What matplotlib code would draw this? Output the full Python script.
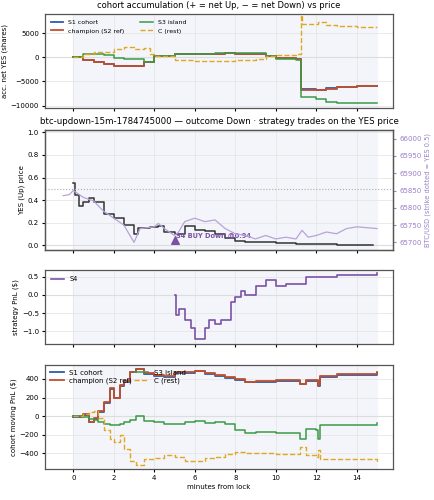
import matplotlib
matplotlib.use("Agg")
import matplotlib.pyplot as plt

# panel 1: accumulation
acc_t = [0,0.5,1,1.5,2,2.5,3,3.5,4,5,6,7,7.5,8,9,9.5,10,11,11.2,11.25,12,12.5,13,14,15]
champ_acc = [0,-500,-900,-1300,-1700,-1800,-1700,-1000,200,600,700,800,900,800,700,300,-200,-400,-400,-6700,-6800,-6500,-6200,-6000,-6000]
s1_acc = [0,-500,-900,-1300,-1700,-1800,-1700,-1000,200,600,700,800,900,800,700,300,-200,-400,-400,-6600,-6700,-6400,-6100,-5950,-5950]
s3_acc = [0,700,800,500,-200,-400,-400,-1000,200,700,800,1000,900,900,1000,200,-300,-500,-500,-8300,-8600,-9200,-9500,-9500,-9500]
c_t = [0,0.5,1,2,2.5,3,3.5,3.8,4,5,6,7,8,9,9.5,10,11,11.2,11.25,11.3,12,12.1,12.5,13,14,15]
c_acc = [0,800,1200,1800,2100,1800,1900,800,200,-600,-700,-700,-600,-400,300,500,600,700,8700,7000,7000,7400,6800,6500,6200,6200]

# panel 2: prices
yes_t = [0,0.1,0.3,0.5,0.8,1,1.5,2,2.5,3,3.2,3.8,4.2,4.5,5,5.5,6,6.5,7,7.5,8,8.5,9,10,11,12,13,14,14.8]
yes_p = [0.55,0.45,0.35,0.38,0.42,0.38,0.28,0.24,0.18,0.10,0.15,0.16,0.17,0.12,0.10,0.17,0.14,0.13,0.10,0.07,0.04,0.03,0.03,0.02,0.01,0.01,0.005,0.003,0.002]
btc_t = [-0.5,-0.2,0,0.5,1,1.5,2,2.5,3,3.3,4,4.2,4.5,5,5.2,5.5,6,6.5,7,7.5,8,8.5,9,9.5,10,10.5,11,11.3,11.6,12,12.5,13,13.5,14,15]
btc_p = [65835,65838,65850,65830,65820,65790,65770,65750,65700,65740,65745,65755,65740,65720,65730,65760,65770,65760,65765,65740,65725,65720,65710,65720,65710,65715,65710,65735,65715,65720,65730,65725,65740,65745,65740]
trade_t = [5.0]
trade_p = [0.05]
trade_label = "S4 BUY Down @0.94"

# panel 3: S4 pnl
s4_t = [5,5.05,5.2,5.5,5.8,6,6.3,6.5,6.7,7,7.3,7.8,8,8.3,8.5,9,9.5,10,10.5,11,11.5,12,12.5,13,14,15]
s4_p = [0,-0.55,-0.4,-0.7,-0.9,-1.2,-1.2,-0.9,-0.7,-0.8,-0.7,-0.2,-0.05,0.1,0.0,0.25,0.4,0.25,0.3,0.3,0.5,0.5,0.5,0.55,0.55,0.6]

# panel 4: moving pnl
pnl_t = [0,0.5,0.8,1,1.2,1.5,1.8,2,2.3,2.5,2.8,3.1,3.5,4,4.5,5,5.5,6,6.5,7,7.5,8,8.5,9,10,11,11.2,11.5,12,12.1,12.2,13,15]
champ_pnl = [0,20,-60,-20,50,150,300,200,330,380,480,510,460,440,430,470,470,490,460,440,420,400,370,380,390,390,350,390,390,330,430,450,470]
s1_pnl = [v-8 for v in champ_pnl]
s3_pnl = [0,-10,-30,-40,-60,-90,-95,-100,-80,-60,-40,0,-50,-60,-80,-80,-60,-50,-70,-60,-90,-150,-180,-170,-180,-180,-250,-140,-150,-250,-100,-100,-70]
c_pnl = [0,20,40,60,-20,-150,-250,-280,-200,-350,-480,-530,-460,-450,-420,-440,-480,-480,-450,-440,-410,-390,-395,-400,-410,-410,-330,-420,-440,-360,-460,-460,-490]

BLUE, RED, GREEN, ORANGE, PURPLE = "#2a5caa", "#c0502f", "#3a9a46", "#e0a820", "#7b52a6"
plt.rcParams.update({"font.size": 5, "axes.edgecolor": "#555555", "axes.linewidth": 0.9,
                     "xtick.major.size": 2.5, "ytick.major.size": 2.5, "axes.labelpad": 2,
                     "xtick.major.pad": 2, "ytick.major.pad": 2})
fig = plt.figure(figsize=(4.34, 5.0), dpi=100)
L, W = 0.104, 0.802
axs = [fig.add_axes([L, b, W, h]) for b, h in [(0.784, 0.188), (0.50, 0.24), (0.312, 0.148), (0.062, 0.208)]]
for ax in axs:
    ax.set_xlim(-1.39, 15.8)
    ax.axvspan(0, 15, color="#f3f5fa", zorder=0)
    ax.grid(True, color="#e6e6e6", lw=0.6)
    ax.set_axisbelow(True)
    ax.set_xticks(range(0, 16, 2))
    ax.axhline(0, color="#dddddd", lw=0.8, zorder=1)
for ax in axs[:3]:
    ax.set_xticklabels([])

ax = axs[0]
ax.plot(acc_t, s1_acc, drawstyle="steps-post", color=BLUE, lw=1.3, label="S1 cohort")
ax.plot(acc_t, champ_acc, drawstyle="steps-post", color=RED, lw=1.3, label="champion (S2 ref)")
ax.plot(acc_t, s3_acc, drawstyle="steps-post", color=GREEN, lw=1.1, label="S3 island")
ax.plot(c_t, c_acc, drawstyle="steps-post", color=ORANGE, lw=1.0, ls="--", label="C (rest)")
ax.set_ylim(-10500, 9000)
ax.set_yticks([5000, 0, -5000, -10000])
ax.set_ylabel("acc. net YES (shares)")
ax.set_title("cohort accumulation (+ = net Up, − = net Down) vs price", fontsize=6, pad=4)
ax.legend(loc="upper left", ncol=2, fontsize=4.5, frameon=False, columnspacing=2.5)

ax = axs[1]
ax.plot(yes_t, yes_p, drawstyle="steps-post", color="#333333", lw=1.1)
ax.axhline(0.5, color="#aaaaaa", ls=":", lw=0.8)
ax.scatter(trade_t, trade_p, marker="^", color=PURPLE, s=30, zorder=5)
ax.text(trade_t[0] + 0.05, trade_p[0] + 0.02, trade_label, color=PURPLE, fontsize=4.8, fontweight="bold")
ax.set_ylim(-0.04, 1.02)
ax.set_ylabel("YES (Up) price")
ax.set_title("btc-updown-15m-1784745000 — outcome Down · strategy trades on the YES price", fontsize=6.2, pad=4)
ax2 = ax.twinx()
ax2.plot(btc_t, btc_p, color="#b8a3d8", lw=0.9)
ax2.set_ylim(65678, 66025)
ax2.set_yticks(range(65700, 66001, 50))
ax2.tick_params(axis="y", colors="#9c7fc8")
ax2.set_ylabel("BTC/USD (strike dotted = YES 0.5)", color="#9c7fc8", fontsize=4.8)

ax = axs[2]
ax.plot(s4_t, s4_p, drawstyle="steps-post", color=PURPLE, lw=1.2, label="S4")
ax.set_ylim(-1.35, 0.68)
ax.set_yticks([0.5, 0.0, -0.5, -1.0])
ax.set_ylabel("strategy PnL ($)")
ax.legend(loc="upper left", fontsize=4.8, frameon=False)

ax = axs[3]
ax.plot(pnl_t, s1_pnl, drawstyle="steps-post", color=BLUE, lw=1.3, label="S1 cohort")
ax.plot(pnl_t, champ_pnl, drawstyle="steps-post", color=RED, lw=1.3, label="champion (S2 ref)")
ax.plot(pnl_t, s3_pnl, drawstyle="steps-post", color=GREEN, lw=1.1, label="S3 island")
ax.plot(pnl_t, c_pnl, drawstyle="steps-post", color=ORANGE, lw=1.0, ls="--", label="C (rest)")
ax.set_ylim(-570, 550)
ax.set_yticks([400, 200, 0, -200, -400])
ax.set_ylabel("cohort moving PnL ($)")
ax.set_xlabel("minutes from lock")
ax.legend(loc="upper left", ncol=2, fontsize=5, frameon=False, handlelength=2, columnspacing=0.3,
          borderaxespad=0.3, labelspacing=0.2)

fig.savefig("out.png", dpi=100)
